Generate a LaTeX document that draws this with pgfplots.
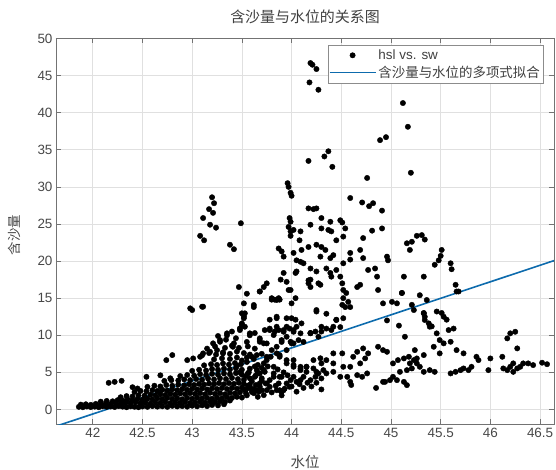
\documentclass[border=0pt]{standalone}
\usepackage{pgfplots}
\pgfplotsset{compat=1.18}
\usepackage{fontspec}
\setmainfont{Liberation Sans}
\newfontfamily\cjk{Noto Sans CJK SC}
\definecolor{mblue}{rgb}{0.05,0.42,0.68}
\pgfplotsset{
 dotlegend/.style={legend image code/.code={\draw[mark repeat=2,mark phase=2,##1] plot coordinates {(0bp,0bp) (23bp,0bp) (46bp,0bp)};}},
 linelegend/.style={legend image code/.code={\draw[##1] (0bp,0bp) -- (46bp,0bp);}},
}
\begin{document}
\begin{tikzpicture}
\begin{axis}[
 scale only axis, width=498bp, height=385.8bp,
 xmin=41.63, xmax=46.64, ymin=-2, ymax=50,
 xtick={42,42.5,43,43.5,44,44.5,45,45.5,46,46.5},
 ytick={0,5,10,15,20,25,30,35,40,45,50},
 tick align=inside, major tick length=5bp,
 grid=major, grid style={color=black!12, line width=0.6bp},
 axis line style={color=black!55, line width=0.8bp},
 tick style={color=black!55, line width=0.6bp},
 /pgf/number format/assume math mode=true,
 ticklabel style={font=\fontsize{13.5}{15}\selectfont, text=black!72},
 title={\cjk 含沙量与水位的关系图},
 title style={at={(axis description cs:0.5,1.04)}, anchor=center, font=\fontsize{15}{17}\selectfont, text=black!75},
 xlabel={\cjk 水位},
 xlabel style={at={(axis description cs:0.5,-0.0977)}, anchor=center, font=\fontsize{14.5}{16}\selectfont, text=black!72},
 ylabel={\cjk 含沙量},
 ylabel style={at={(axis description cs:-0.0843,0.49)}, anchor=center, font=\fontsize{13.5}{15}\selectfont, text=black!72},
 legend style={at={(axis description cs:1,1)}, xshift=-11bp, yshift=-6.5bp, anchor=north east,
   draw=black!45, fill=white, font=\fontsize{13.5}{15}\selectfont, text=black!75,
   row sep=0bp, inner xsep=1bp, inner ysep=2bp, nodes={inner xsep=2bp, inner ysep=2.5bp}},
 legend cell align=left,
]
\addplot[only marks, mark=*, mark size=2.7bp, black, dotlegend]
coordinates {
(41.86,0.35) (41.90,0.30) (41.94,0.40) (41.98,0.32) (42.02,0.38) (42.06,0.30) (42.10,0.42) (42.14,0.35) (42.18,0.40) (42.22,0.33) (42.26,0.45) (42.30,0.38) (42.34,0.30) (42.38,0.42) (42.42,0.36) (42.46,0.30) (42.50,0.40) (42.55,0.35) (42.60,0.45) (42.65,0.38) (42.70,0.42) (42.75,0.35) (42.80,0.48) (42.85,0.40) (42.90,0.45) (42.95,0.38) (43.00,0.50) (43.05,0.42) (43.10,0.55) (43.15,0.45) (43.20,0.60) (43.26,0.55) (43.32,0.70)
(41.88,0.65) (41.93,0.70) (41.98,0.62) (42.03,0.75) (42.08,0.68) (42.13,0.80) (42.18,0.72) (42.23,0.85) (42.28,0.78) (42.33,0.90) (42.38,0.82) (42.43,0.95) (42.48,0.85) (42.53,0.92) (42.58,0.80) (42.63,0.95) (42.68,0.88) (42.73,0.98) (42.78,0.85) (42.83,0.95) (42.88,0.90) (42.93,1.00) (42.98,0.88) (43.03,0.95) (43.08,1.05) (43.13,0.92) (43.18,1.05) (43.23,1.00) (43.28,1.10) (43.33,1.00) (43.38,1.20)
(42.08,1.05) (42.14,1.15) (42.20,1.10) (42.25,1.25) (42.30,1.20) (42.35,1.35) (42.40,1.28) (42.45,1.40) (42.50,1.32) (42.55,1.45) (42.60,1.35) (42.65,1.50) (42.70,1.40) (42.75,1.55) (42.80,1.42) (42.85,1.50) (42.90,1.38) (42.95,1.55) (43.00,1.45) (43.05,1.60) (43.10,1.48) (43.15,1.58) (43.20,1.45) (43.25,1.60) (43.30,1.50) (43.35,1.65) (43.40,1.55) (43.45,1.70) (43.50,1.60)
(42.28,1.65) (42.34,1.80) (42.40,1.75) (42.46,1.90) (42.52,1.85) (42.58,2.00) (42.63,1.90) (42.68,2.05) (42.73,1.95) (42.78,2.10) (42.83,2.00) (42.88,2.15) (42.93,2.05) (42.98,2.20) (43.03,2.10) (43.08,2.20) (43.13,2.05) (43.18,2.25) (43.23,2.10) (43.28,2.20) (43.33,2.05) (43.38,2.25) (43.43,2.15) (43.48,2.30) (43.54,2.20) (43.60,2.35)
(42.42,2.35) (42.48,2.50) (42.54,2.45) (42.60,2.60) (42.65,2.50) (42.70,2.65) (42.75,2.55) (42.80,2.70) (42.85,2.60) (42.90,2.75) (42.95,2.65) (43.00,2.80) (43.05,2.70) (43.10,2.85) (43.15,2.70) (43.20,2.85) (43.25,2.75) (43.30,2.90) (43.35,2.75) (43.40,2.90) (43.45,2.80) (43.50,2.95) (43.56,2.85) (43.62,2.70)
(42.55,3.05) (42.62,3.20) (42.68,3.10) (42.74,3.30) (42.80,3.20) (42.86,3.35) (42.92,3.25) (42.97,3.40) (43.02,3.30) (43.07,3.45) (43.12,3.35) (43.17,3.50) (43.22,3.40) (43.27,3.55) (43.32,3.40) (43.37,3.55) (43.42,3.45) (43.47,3.60) (43.52,3.45) (43.58,3.35)
(42.72,3.85) (42.79,3.95) (42.86,3.90) (42.92,4.05) (42.98,3.95) (43.04,4.10) (43.10,4.00) (43.16,4.15) (43.22,4.05) (43.28,4.20) (43.34,4.10) (43.40,4.25) (43.46,4.10) (43.52,4.00) (43.58,4.20)
(42.88,4.50) (42.95,4.65) (43.02,4.55) (43.08,4.75) (43.14,4.65) (43.20,4.80) (43.26,4.70) (43.32,4.85) (43.38,4.75) (43.44,4.90) (43.50,4.70) (43.56,4.85)
(43.00,5.20) (43.07,5.35) (43.14,5.25) (43.20,5.45) (43.26,5.35) (43.32,5.50) (43.38,5.40) (43.44,5.55) (43.50,5.35)
(43.12,5.95) (43.19,6.10) (43.25,6.00) (43.31,6.20) (43.37,6.05) (43.43,6.25) (43.49,6.10)
(43.22,6.75) (43.30,6.90) (43.38,6.80) (43.45,7.00)
(43.10,7.30) (43.17,7.60) (43.24,7.40) (43.31,7.70) (43.38,7.50) (43.45,7.80) (43.52,7.60) (43.58,7.40)
(43.15,8.20) (43.23,8.50) (43.33,8.30) (43.40,8.60) (43.47,8.30) (43.56,8.50) (43.63,8.20)
(43.55,6.40) (43.62,6.80) (43.70,7.50) (43.57,5.00) (43.63,5.80) (43.70,5.60) (43.54,4.50) (43.66,4.90) (43.56,3.20) (43.64,3.30) (43.70,3.90) (43.60,2.80) (43.67,2.40) (43.52,2.70) (43.50,6.60) (43.55,7.00) (43.45,5.90) (43.48,5.00)
(43.34,9.40) (43.44,9.60) (43.26,9.90) (43.40,10.50)
(42.54,4.40) (42.68,4.60) (42.78,4.20) (42.40,3.00) (42.45,2.83) (42.16,3.59) (42.22,3.72) (42.29,3.86)
(42.95,6.65) (43.01,6.88) (43.08,7.10) (42.80,7.33) (42.74,6.65) (43.11,7.56) (43.18,7.77) (43.25,8.00) (43.31,7.56) (43.21,8.91) (43.28,9.12) (43.35,10.26) (43.42,8.91)
(42.98,13.63) (43.00,13.40) (43.10,13.85) (43.52,14.30) (43.62,14.08) (43.50,12.96) (43.52,12.50) (43.50,11.60) (43.53,11.15) (43.48,10.93)
(43.58,10.26) (43.68,9.58) (43.72,8.91) (43.78,10.70) (43.85,11.15) (43.95,11.15) (44.02,10.47) (44.09,10.26) (44.19,10.26)
(43.65,7.33) (43.75,7.10) (43.85,7.56) (43.95,6.21) (44.02,6.65) (44.09,5.75) (44.15,5.07) (44.02,4.40) (43.82,4.40) (43.72,5.30) (43.78,3.05) (43.88,2.60)
(43.55,1.90) (43.62,2.20) (43.66,1.70) (43.70,2.60) (43.74,3.50) (43.80,2.30) (43.84,3.20) (43.90,1.90) (43.93,2.80) (43.96,4.60) (44.00,3.10) (44.05,2.40) (44.08,3.40) (44.12,2.90) (44.16,3.60) (44.20,3.10) (44.25,3.60) (44.30,2.70) (43.60,3.80) (43.64,4.60) (43.68,3.10) (43.58,5.50) (43.66,6.00) (43.76,5.80) (43.86,5.40) (43.92,5.00) (43.70,4.20)
(43.68,9.12) (43.73,10.70) (43.82,10.03) (43.87,10.70) (43.92,10.47) (43.90,9.35) (43.99,9.12) (44.02,8.91) (43.95,8.00) (43.88,7.33) (43.79,7.10) (43.72,6.21) (43.65,5.30) (43.73,5.07) (43.82,4.86) (43.90,4.40) (43.95,3.51) (43.87,3.51) (43.78,3.95) (43.68,3.51) (43.75,2.60) (43.85,2.60) (43.90,2.38) (43.72,1.93) (43.63,4.40) (43.60,7.10)
(43.68,15.90) (43.80,15.00) (43.85,14.75) (43.88,14.80) (43.97,16.10) (44.05,18.60) (44.09,19.90) (44.17,17.40) (44.19,16.50) (44.27,17.00) (44.25,13.40) (43.11,13.85)
(43.53,12.96) (43.52,12.30) (43.50,11.40) (43.48,10.70) (43.58,10.00) (43.63,10.30) (43.55,9.10) (43.68,9.35) (43.78,10.90) (43.83,10.50) (43.92,10.70) (43.98,10.90) (44.05,11.15) (44.00,12.30) (43.85,12.30) (44.19,10.30) (44.24,10.50) (44.30,11.15) (44.35,10.90) (44.42,11.15) (44.45,12.05)
(43.35,10.00) (43.28,9.35) (43.41,8.45)
(43.75,8.90) (43.80,8.00) (43.85,8.45) (43.90,9.10) (43.95,9.80) (44.00,8.90) (44.07,9.35) (44.12,9.10) (43.88,7.10) (43.95,6.65) (44.02,6.00) (44.09,5.50) (44.15,5.75) (44.22,6.65) (44.29,6.90) (44.35,6.65) (44.42,7.56) (44.27,4.86) (44.12,4.40) (44.05,3.72) (43.98,3.05) (43.92,2.60) (43.88,4.40) (43.82,5.75) (43.75,6.65) (43.68,4.86) (43.75,3.50) (43.65,2.60)
(44.02,5.75) (44.09,5.30) (44.15,5.75) (44.22,5.53) (44.25,5.07) (44.30,6.21) (44.32,5.30) (44.35,4.86) (44.42,5.07) (44.49,4.40) (44.59,3.72) (44.56,4.40) (44.66,4.63) (44.71,4.40) (44.76,4.86) (44.69,6.21) (44.74,6.88) (44.77,7.56) (44.87,8.45) (44.92,8.00) (44.96,7.77) (43.99,3.95) (44.09,3.95) (44.19,3.95) (44.24,4.40) (44.30,4.18) (44.59,5.75) (44.62,7.10) (44.42,6.21) (44.52,5.75) (44.51,7.56) (44.66,7.77) (44.72,8.23)
(45.02,6.21) (45.07,6.65) (45.13,6.88) (45.18,7.10) (45.23,6.65) (45.26,6.21) (45.29,5.75) (45.21,5.53) (45.16,5.30) (45.09,5.07) (45.02,4.40) (45.06,3.95) (45.13,3.72) (45.16,3.28) (44.99,3.95) (44.94,3.72) (45.33,5.07) (45.39,5.30) (45.44,5.07) (45.26,6.88) (45.19,6.21) (45.24,8.00) (45.33,7.33) (44.92,3.72) (44.60,3.30) (44.85,2.90)
(45.60,4.86) (45.65,5.07) (45.70,5.30) (45.73,5.53) (45.78,5.30) (45.81,5.75) (45.86,7.10) (45.88,6.65) (46.00,6.88) (45.98,5.30) (46.13,5.53) (46.17,5.30) (46.20,5.75) (46.23,6.21) (46.27,5.53) (46.30,5.75) (46.33,6.21) (46.38,6.21) (46.43,5.98) (46.17,9.58) (46.20,10.26) (46.25,10.47) (46.27,8.23) (46.12,7.10) (46.23,5.07) (46.52,6.30) (46.57,6.10)
(45.36,14.75) (45.33,12.96) (45.34,12.06) (45.39,11.15) (45.46,10.26) (45.49,9.35) (45.53,8.91) (45.60,9.12) (45.66,8.00) (45.73,7.56) (45.49,7.56) (45.43,8.45)
(44.92,14.30) (45.01,14.50) (45.06,14.30) (45.11,15.70) (45.21,14.10) (45.23,13.40) (44.96,12.00) (45.08,11.30) (45.14,9.80) (45.33,13.00) (45.34,12.50) (45.38,11.60) (45.41,11.20) (45.46,13.20) (45.51,13.00) (45.53,12.50) (45.56,12.10) (45.58,10.70) (45.63,10.90) (45.66,15.90)
(44.25,13.20) (44.35,12.90) (44.45,12.10) (44.52,12.30) (44.49,11.10) (44.54,13.80) (44.40,10.70) (44.30,10.50) (44.27,9.80) (44.19,10.30) (44.10,11.60) (44.04,12.10) (43.95,12.30) (43.85,12.50) (43.78,12.10) (44.02,10.70)
(43.62,13.80) (43.72,16.50) (43.75,17.00) (43.68,15.90) (43.80,14.80) (43.83,14.80) (43.87,15.00) (44.00,14.30) (44.04,15.00) (43.99,16.10) (43.95,17.20) (43.92,18.40) (43.47,16.50) (43.55,15.60)
(44.66,16.50) (44.69,16.80) (44.87,16.10) (45.13,17.90) (45.33,17.90) (45.11,15.70) (45.29,15.40) (44.96,20.60)
(43.89,17.50) (44.04,18.40) (44.19,17.50) (44.17,17.00) (44.29,16.80) (44.52,16.10) (44.55,15.70) (44.52,15.00) (44.57,14.50) (44.59,13.80) (44.51,14.10)
(44.05,20.10) (44.12,19.70) (44.19,19.00) (44.25,18.60) (44.35,19.00) (44.39,18.40) (44.40,17.90) (44.45,18.80) (44.49,17.90) (44.51,17.00)
(44.45,22.80) (44.52,23.30) (44.59,21.10) (44.52,19.70) (44.59,20.20) (44.69,21.50) (44.72,20.40) (44.77,18.80) (44.84,19.00) (44.86,17.90) (44.97,20.10)
(43.87,21.70) (43.90,21.30) (43.92,20.60) (44.02,21.10) (44.10,21.50) (44.17,21.90) (44.25,22.20) (44.30,21.90) (44.34,21.50) (44.29,20.60) (44.39,20.40) (44.42,20.80)
(45.51,21.50) (45.50,20.70) (45.48,20.10) (45.44,19.50) (45.60,19.70) (45.61,18.90) (45.65,16.80) (45.68,15.90)
(45.16,22.40) (45.21,22.60) (45.26,23.40) (45.31,23.50) (45.34,22.90) (45.19,21.50)
(44.72,23.10) (44.81,24.10) (44.91,24.40)
(44.30,25.80) (44.39,25.30) (44.49,25.50) (44.51,25.20) (44.54,24.40) (44.37,24.20) (44.30,24.40) (44.19,24.90) (44.40,24.00)
(43.98,25.80) (43.99,25.30) (43.97,24.60) (43.99,24.00) (43.99,23.40) (44.02,24.20) (44.09,24.00) (44.08,22.80)
(44.17,27.10) (44.22,27.00) (44.25,27.10) (44.91,26.80)
(44.71,27.90) (44.78,27.40) (44.82,27.80) (44.59,28.50)
(43.96,30.50) (43.97,30.00) (43.99,29.20) (44.00,28.80)
(44.17,33.50) (44.33,34.10) (44.37,34.80) (44.41,32.70) (44.76,31.20) (45.20,31.90)
(44.19,46.69) (44.21,46.46) (44.25,45.88) (44.18,44.08) (44.27,43.09)
(45.12,41.30) (45.17,38.10) (44.89,36.30) (44.95,36.70)
(43.20,28.60) (43.22,27.80) (43.17,27.00) (43.21,26.50) (43.11,25.80) (43.18,24.90) (43.24,24.50) (43.08,23.40) (43.12,22.80) (43.38,22.20) (43.42,21.60) (43.49,25.10)
};
\addlegendentry{hsl vs. sw}
\addplot[no marks, mblue, line width=1.6bp, linelegend]
coordinates {(41.63,-2.26) (44.00,8.30) (46.64,20.06)};
\addlegendentry{\cjk 含沙量与水位的多项式拟合}
\end{axis}
\pgfresetboundingbox
\path[use as bounding box] ([shift={(-56bp,-45.7bp)}]current axis.south west) rectangle ([shift={(500bp,424.3bp)}]current axis.south west);
\end{tikzpicture}
\end{document}
